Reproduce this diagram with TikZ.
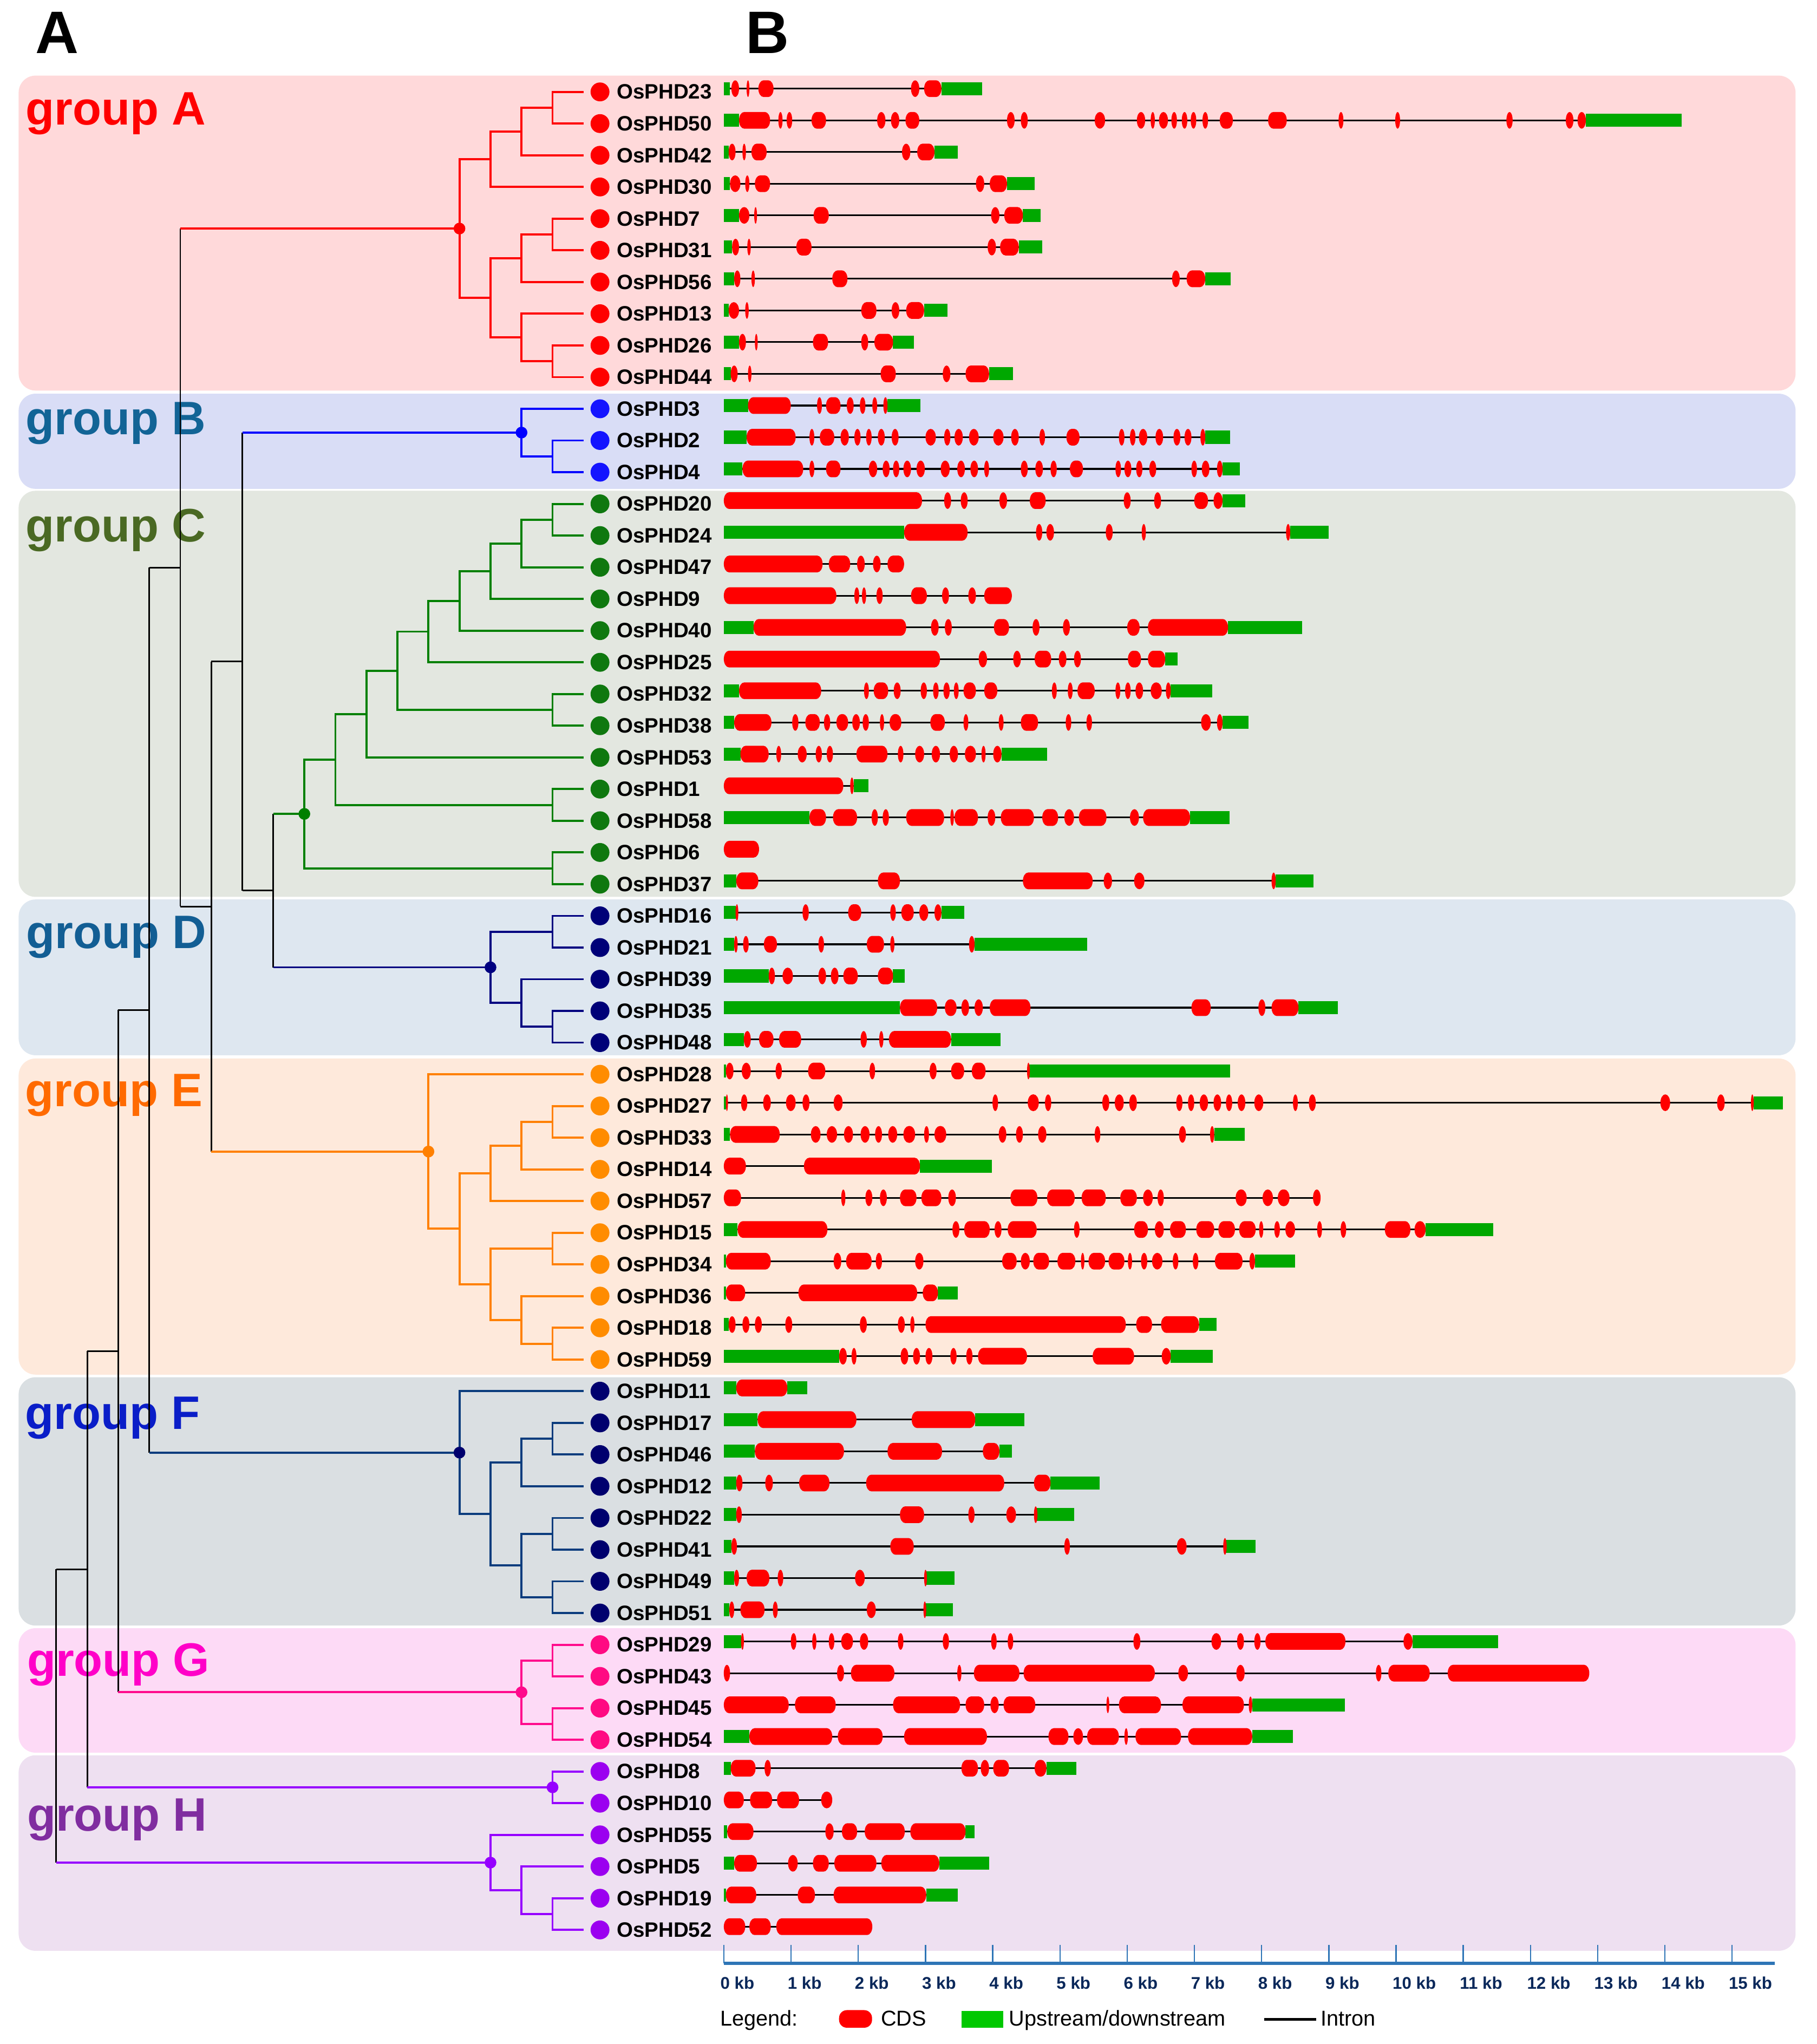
\documentclass[tikz,border=0pt]{standalone}
\usepackage{fontspec}
\setmainfont{Liberation Sans}
\usetikzlibrary{calc}

\definecolor{bgA}{RGB}{255,217,218}
\definecolor{bgB}{RGB}{217,221,246}
\definecolor{bgC}{RGB}{227,231,224}
\definecolor{bgD}{RGB}{222,231,240}
\definecolor{bgE}{RGB}{254,233,219}
\definecolor{bgF}{RGB}{218,223,226}
\definecolor{bgG}{RGB}{253,218,246}
\definecolor{bgH}{RGB}{238,224,241}
\definecolor{txA}{RGB}{255,0,0}
\definecolor{txB}{RGB}{18,100,150}
\definecolor{txC}{RGB}{74,105,35}
\definecolor{txD}{RGB}{18,94,148}
\definecolor{txE}{RGB}{255,106,0}
\definecolor{txF}{RGB}{10,30,200}
\definecolor{txG}{RGB}{255,0,200}
\definecolor{txH}{RGB}{128,45,160}
\definecolor{trA}{RGB}{255,0,0}
\definecolor{trB}{RGB}{0,0,255}
\definecolor{trC}{RGB}{0,128,0}
\definecolor{trD}{RGB}{0,0,128}
\definecolor{trE}{RGB}{255,128,0}
\definecolor{trF}{RGB}{10,60,125}
\definecolor{trG}{RGB}{255,10,140}
\definecolor{trH}{RGB}{150,0,255}
\definecolor{dtA}{RGB}{255,0,0}
\definecolor{dtB}{RGB}{20,20,255}
\definecolor{dtC}{RGB}{15,120,15}
\definecolor{dtD}{RGB}{0,0,120}
\definecolor{dtE}{RGB}{255,140,0}
\definecolor{dtF}{RGB}{0,0,110}
\definecolor{dtG}{RGB}{255,10,130}
\definecolor{dtH}{RGB}{155,0,240}
\definecolor{cdsred}{RGB}{255,0,0}
\definecolor{utrgreen}{RGB}{0,168,0}
\definecolor{axisblue}{RGB}{46,117,182}
\definecolor{axistext}{RGB}{10,40,90}
\definecolor{leggreen}{RGB}{0,200,0}

% internal tree node: style, name, level coordinate, child 1, child 2
\newcommand\jn[5]{%
  \coordinate (#2m) at ($(#4)!0.5!(#5)$);
  \coordinate (#2) at (#2m -| #3);
  \draw[#1] (#4) -| (#2) |- (#5);
}
% backbone node: name, level, child 1, child 2, style to child 1, style to child 2
\newcommand\bbn[6]{%
  \coordinate (#1m) at ($(#3)!0.5!(#4)$);
  \coordinate (#1) at (#1m -| #2);
  \draw[bbline] (#1 |- #3) -- (#1 |- #4);
  \draw[#5] (#1 |- #3) -- (#3);
  \draw[#6] (#1 |- #4) -- (#4);
}
% CDS block with elliptical ends
\newcommand\cdsbox[3]{%
  \pgfmathsetmacro\crad{min((#2-#1)*0.5299/2,4)}%
  \fill[cds] ($(#1,#3)+(\crad pt,6.4pt)$) -- ($(#2,#3)+(-\crad pt,6.4pt)$)
    arc[start angle=90, end angle=-90, x radius=\crad pt, y radius=6.4pt]
    -- ($(#1,#3)+(\crad pt,-6.4pt)$)
    arc[start angle=270, end angle=90, x radius=\crad pt, y radius=6.4pt] -- cycle;%
}
% gene: row, end, UTR list, CDS list
\newcommand\gene[4]{%
  \pgfmathsetmacro\gy{70.5+(#1-1)*24.31-2.5}%
  \draw[intron] (13,\gy) -- (#2,\gy);%
  \if\relax\detokenize{#3}\relax\else
    \foreach \xa/\xb in {#3} {\fill[utr] (\xa,\gy-5) rectangle (\xb,\gy+5);}%
  \fi
  \foreach \xa/\xb in {#4} {\cdsbox{\xa}{\xb}{\gy}}%
}

\begin{document}
\begin{tikzpicture}[x=1pt,y=-1pt,
  grpbg/.style={rounded corners=13pt},
  grplab/.style={anchor=base west, inner sep=0pt, font=\fontsize{36}{36}\selectfont\bfseries},
  hdr/.style={anchor=base west, inner sep=0pt, font=\fontsize{46}{46}\selectfont\bfseries},
  leaflab/.style={anchor=west, inner sep=0pt, font=\fontsize{16}{16}\selectfont\bfseries},
  leafdot/.style={circle, inner sep=0pt, minimum size=14.5pt},
  rootdot/.style={circle, inner sep=0pt, minimum size=9pt},
  brA/.style={trA, line width=1.6pt},
  brB/.style={trB, line width=1.6pt},
  brC/.style={trC, line width=1.6pt},
  brD/.style={trD, line width=1.6pt},
  brE/.style={trE, line width=1.6pt},
  brF/.style={trF, line width=1.6pt},
  brG/.style={trG, line width=1.6pt},
  brH/.style={trH, line width=1.6pt},
  bbline/.style={black, line width=1.2pt},
  intron/.style={black, line width=1.3pt},
  utr/.style={fill=utrgreen},
  cds/.style={fill=cdsred},
  axisline/.style={axisblue, line width=2.5pt},
  tickline/.style={axisblue, line width=1pt},
  ticklab/.style={anchor=base west, inner sep=0pt, text=axistext, font=\fontsize{13}{13}\selectfont\bfseries},
  leglab/.style={anchor=base west, inner sep=0pt, font=\fontsize{16.5}{16.5}\selectfont},
]
\useasboundingbox (0,0) rectangle (1393.7,1568);
\fill[white] (0,0) rectangle (1393.7,1568);

% group backgrounds
\fill[bgA, grpbg] (14.3,58) rectangle (1377.5,299.6);
\fill[bgB, grpbg] (14.3,302) rectangle (1377.5,375);
\fill[bgC, grpbg] (14.3,376.5) rectangle (1377.5,688);
\fill[bgD, grpbg] (14.3,690) rectangle (1377.5,809.5);
\fill[bgE, grpbg] (14.3,812) rectangle (1377.5,1054.5);
\fill[bgF, grpbg] (14.3,1056.5) rectangle (1377.5,1247);
\fill[bgG, grpbg] (14.3,1249) rectangle (1377.5,1344.5);
\fill[bgH, grpbg] (14.3,1346.5) rectangle (1377.5,1496.5);

% headers and group labels
\node[hdr] (hA) at (27,41) {A};
\node[hdr] (hB) at (572,41) {B};
\node[grplab, text=txA] (gA) at (19.7,95.7) {group A};
\node[grplab, text=txB] (gB) at (19.7,333.3) {group B};
\node[grplab, text=txC] (gC) at (19.7,415.4) {group C};
\node[grplab, text=txD] (gD) at (20,727.6) {group D};
\node[grplab, text=txE] (gE) at (19.1,848.8) {group E};
\node[grplab, text=txF] (gF) at (19.1,1096.4) {group F};
\node[grplab, text=txG] (gG) at (20.7,1285.7) {group G};
\node[grplab, text=txH] (gH) at (20.7,1404.6) {group H};

% tree levels
\foreach \k in {0,...,16} {\coordinate (l\k) at ({43.1+23.8*\k},0);}

% leaves
\foreach \i/\g/\c in {1/23/A,2/50/A,3/42/A,4/30/A,5/7/A,6/31/A,7/56/A,8/13/A,9/26/A,10/44/A,
  11/3/B,12/2/B,13/4/B,
  14/20/C,15/24/C,16/47/C,17/9/C,18/40/C,19/25/C,20/32/C,21/38/C,22/53/C,23/1/C,24/58/C,25/6/C,26/37/C,
  27/16/D,28/21/D,29/39/D,30/35/D,31/48/D,
  32/28/E,33/27/E,34/33/E,35/14/E,36/57/E,37/15/E,38/34/E,39/36/E,40/18/E,41/59/E,
  42/11/F,43/17/F,44/46/F,45/12/F,46/22/F,47/41/F,48/49/F,49/51/F,
  50/29/G,51/43/G,52/45/G,53/54/G,
  54/8/H,55/10/H,56/55/H,57/5/H,58/19/H,59/52/H} {
  \pgfmathsetmacro\yy{70.5+(\i-1)*24.31}
  \coordinate (t\g) at (447.7,\yy);
  \node[leafdot, fill=dt\c] (dot\g) at (460.3,\yy) {};
  \node[leaflab] (lab\g) at (473,\yy) {OsPHD\g};
}

% group A
\jn{brA}{a1}{l16}{t23}{t50}
\jn{brA}{a2}{l15}{a1}{t42}
\jn{brA}{a3}{l14}{a2}{t30}
\jn{brA}{a4}{l16}{t7}{t31}
\jn{brA}{a5}{l15}{a4}{t56}
\jn{brA}{a6}{l16}{t26}{t44}
\jn{brA}{a7}{l15}{t13}{a6}
\jn{brA}{a8}{l14}{a5}{a7}
\jn{brA}{rA}{l13}{a3}{a8}
% group B
\jn{brB}{b1}{l16}{t2}{t4}
\jn{brB}{rB}{l15}{t3}{b1}
% group C
\jn{brC}{c1}{l16}{t20}{t24}
\jn{brC}{c2}{l15}{c1}{t47}
\jn{brC}{c3}{l14}{c2}{t9}
\jn{brC}{c4}{l13}{c3}{t40}
\jn{brC}{c5}{l12}{c4}{t25}
\jn{brC}{c6}{l16}{t32}{t38}
\jn{brC}{c7}{l11}{c5}{c6}
\jn{brC}{c8}{l10}{c7}{t53}
\jn{brC}{c9}{l16}{t1}{t58}
\jn{brC}{c10}{l9}{c8}{c9}
\jn{brC}{c11}{l16}{t6}{t37}
\jn{brC}{rC}{l8}{c10}{c11}
% group D
\jn{brD}{d1}{l16}{t16}{t21}
\jn{brD}{d2}{l16}{t35}{t48}
\jn{brD}{d3}{l15}{t39}{d2}
\jn{brD}{rD}{l14}{d1}{d3}
% group E
\jn{brE}{e1}{l16}{t27}{t33}
\jn{brE}{e2}{l15}{e1}{t14}
\jn{brE}{e3}{l14}{e2}{t57}
\jn{brE}{e4}{l16}{t15}{t34}
\jn{brE}{e5}{l16}{t18}{t59}
\jn{brE}{e6}{l15}{t36}{e5}
\jn{brE}{e7}{l14}{e4}{e6}
\jn{brE}{e8}{l13}{e3}{e7}
\jn{brE}{rE}{l12}{t28}{e8}
% group F
\jn{brF}{f1}{l16}{t17}{t46}
\jn{brF}{f2}{l15}{f1}{t12}
\jn{brF}{f3}{l16}{t22}{t41}
\jn{brF}{f4}{l16}{t49}{t51}
\jn{brF}{f5}{l15}{f3}{f4}
\jn{brF}{f6}{l14}{f2}{f5}
\jn{brF}{rF}{l13}{t11}{f6}
% group G
\jn{brG}{g1}{l16}{t29}{t43}
\jn{brG}{g2}{l16}{t45}{t54}
\jn{brG}{rG}{l15}{g1}{g2}
% group H
\jn{brH}{rHa}{l16}{t8}{t10}
\jn{brH}{h2}{l16}{t19}{t52}
\jn{brH}{h3}{l15}{t5}{h2}
\jn{brH}{rHb}{l14}{t55}{h3}
% backbone
\bbn{k7}{l7}{rC}{rD}{brC}{brD}
\bbn{k6}{l6}{rB}{k7}{brB}{bbline}
\bbn{k5}{l5}{k6}{rE}{bbline}{brE}
\bbn{k4}{l4}{rA}{k5}{brA}{bbline}
\bbn{k3}{l3}{k4}{rF}{bbline}{brF}
\bbn{k2}{l2}{k3}{rG}{bbline}{brG}
\bbn{k1}{l1}{k2}{rHa}{bbline}{brH}
\bbn{k0}{l0}{k1}{rHb}{bbline}{brH}
% group root dots
\node[rootdot, fill=dtA] (dA) at (rA) {};
\node[rootdot, fill=trB] (dB) at (rB) {};
\node[rootdot, fill=trC] (dC) at (rC) {};
\node[rootdot, fill=trD] (dD) at (rD) {};
\node[rootdot, fill=trE] (dE) at (rE) {};
\node[rootdot, fill=dtF] (dF) at (rF) {};
\node[rootdot, fill=trG] (dG) at (rG) {};
\node[rootdot, fill=trH] (dHa) at (rHa) {};
\node[rootdot, fill=trH] (dHb) at (rHb) {};

% gene structures (x unit: 1/97.2 kb, 0 kb at 13)
\begin{scope}[xshift=548.4pt, x=0.5299pt]
\gene{1}{387}{13/22,328/387}{24/35,46/50,63/85,284/296,303/328}
\gene{2}{1400}{13/35,1261/1400}{35/80,92/98,104/112,140/161,235/247,255/267,276/296,423/434,443/453,550/565,611/623,631/637,643/656,661/669,676/684,689/697,706/714,731/750,801/828,903/910,985/992,1146/1155,1232/1243,1249/1261}
\gene{3}{352}{13/20,318/352}{20/30,40/45,53/75,271/283,293/318}
\gene{4}{463}{13/22,423/463}{22/37,44/50,58/80,378/390,398/423}
\gene{5}{472}{13/35,446/472}{35/50,57/61,143/165,400/412,419/446}
\gene{6}{474}{13/25,440/474}{25/35,47/52,118/140,395/407,413/440}
\gene{7}{747}{13/28,710/747}{28/37,53/58,170/192,662/673,683/710}
\gene{8}{337}{13/20,303/337}{20/35,44/49,212/234,256/267,277/303}
\gene{9}{288}{13/35,258/288}{35/45,58/62,142/164,212/222,231/258}
\gene{10}{432}{13/23,397/432}{23/33,48/53,240/262,330/341,363/397}
\gene{11}{298}{13/48,250/298}{48/110,148/155,161/182,191/201,210/218,228/235,244/250}
\gene{12}{746}{13/46,710/746}{46/117,137/144,152/173,182/194,202/211,219/227,236/246,256/266,305/320,332/341,347/359,368/382,403/418,429/440,470/478,509/528,585/593,601/609,614/626,638/649,664/674,680/690,703/710}
\gene{13}{760}{13/40,735/760}{40/128,137/144,161/182,223/235,243/253,258/267,273/284,292/304,327/340,351/362,370/381,390/397,443/453,464/475,486/495,514/533,580/588,593/603,610/619,629/639,690/698,705/716,727/735}
\gene{14}{768}{735/768}{13/300,332/342,356/366,412/423,456/479,592/602,636/646,694/714,722/735}
\gene{15}{889}{13/274,833/889}{274/366,465/474,480/491,566/576,618/624,827/833}
\gene{16}{274}{}{13/156,165/196,206/217,229/240,250/274}
\gene{17}{430}{}{13/176,202/209,213/219,234/243,284/307,329/339,367/378,390/430}
\gene{18}{850}{13/56,743/850}{56/277,313/324,333/343,404/426,460/470,504/514,597/615,627/743}
\gene{19}{670}{652/670}{13/326,382/394,432/443,463/487,498/509,520/530,598/617,627/652}
\gene{20}{720}{13/35,660/720}{35/154,216/223,230/251,259/269,298/307,316/324,331/340,346/353,360/378,390/409,488/495,511/518,525/550,580/587,594/602,609/620,631/647,653/660}
\gene{21}{773}{13/28,735/773}{28/82,112/121,131/152,158/167,176/193,199/210,214/223,239/245,253/270,312/333,360/367,411/418,443/468,508/516,538/546,704/718,727/735}
\gene{22}{481}{13/37,415/481}{37/78,89/96,120/133,146/155,162/171,205/250,265/273,290/303,314/326,340/352,362/378,386/392,403/415}
\gene{23}{222}{201/222}{13/186,196/201}
\gene{24}{745}{13/137,688/745}{137/161,171/206,227/236,243/252,277/332,341/346,347/381,395/406,414/462,474/497,506/520,527/567,601/614,620/688}
\gene{25}{64}{}{13/64}
\gene{26}{867}{13/31,812/867}{31/63,236/268,446/547,563/575,607/622,806/812}
\gene{27}{361}{13/30,328/361}{30/34,127/136,193/212,254/262,270/288,296/309,318/328}
\gene{28}{539}{13/28,376/539}{28/33,41/49,71/90,150/158,220/245,254/260,368/376}
\gene{29}{275}{13/78,258/275}{78/87,98/113,150/161,168/179,186/207,236/258}
\gene{30}{902}{13/268,845/902}{268/322,333/350,357/368,376/388,398/457,690/718,787/797,806/845}
\gene{31}{414}{13/42,342/414}{42/52,64/85,93/125,211/220,238/244,252/342}
\gene{32}{746}{13/16,455/746}{16/27,39/52,88/97,135/160,224/232,311/321,342/361,372/392,452/456}
\gene{33}{1546}{13/16,1504/1546}{16/19,38/47,70/81,103/117,127/137,172/185,402/410,453/469,478/487,561/571,579/592,600/611,668/677,685/694,702/714,722/733,740/749,757/768,781/794,837/844,860/870,1369/1383,1451/1462,1500/1504}
\gene{34}{767}{13/22,723/767}{22/94,139/153,162/177,187/200,211/224,232/242,251/264,273/290,303/310,318/335,411/422,436/446,468/480,550/558,672/682,717/723}
\gene{35}{401}{297/401}{13/45,129/297}
\gene{36}{877}{}{13/38,183/189,218/228,239/249,268/292,299/328,338/349,428/467,481/521,531/566,587/611,620/634,641/650,754/770,793/808,815/832,866/877}
\gene{37}{1127}{13/33,1029/1127}{33/163,344/354,361/398,405/415,424/466,520/528,607/627,637/650,659/682,697/723,729/753,759/783,788/794,810/818,826/840,872/879,906/914,970/1007,1013/1029}
\gene{38}{840}{13/16,782/840}{16/81,172/183,190/227,233/242,290/302,416/437,443/456,461/484,496/522,530/535,541/565,570/593,598/604,617/626,633/648,663/671,692/700,724/764,774/782}
\gene{39}{352}{13/16,323/352}{16/44,121/293,301/323}
\gene{40}{726}{13/20,701/726}{20/30,40/50,58/68,102/112,210/220,265/275,283/289,305/595,610/633,646/701}
\gene{41}{721}{13/180,660/721}{180/191,198/205,269/280,287/297,305/315,341/350,364/373,381/452,547/607,647/660}
\gene{42}{134}{13/31,105/134}{31/105}
\gene{43}{448}{13/62,377/448}{62/205,285/377}
\gene{44}{430}{13/58,412/430}{58/187,250/329,388/412}
\gene{45}{557}{13/31,486/557}{31/40,73/84,122/166,219/419,462/486}
\gene{46}{520}{13/31,464/520}{31/39,268/303,367/376,422/436,462/467}
\gene{47}{783}{13/24,738/783}{24/32,254/288,506/514,669/683,736/741}
\gene{48}{347}{13/28,305/347}{28/35,46/79,91/99,203/217,303/307}
\gene{49}{345}{13/21,304/345}{21/28,37/72,84/91,220/233,302/306}
\gene{50}{1134}{13/38,1010/1134}{38/42,110/118,141/147,165/173,183/200,210/222,265/273,330/339,400/408,424/432,606/616,719/733,756/766,781/790,797/913,997/1010}
\gene{51}{1266}{}{13/22,177/187,197/260,351/357,375/441,447/637,671/685,755/767,957/965,975/1035,1061/1266}
\gene{52}{912}{778/912}{13/107,116/175,258/355,363/390,399/411,418/464,567/571,585/646,677/766,773/778}
\gene{53}{837}{13/50,778/837}{50/170,178/243,274/394,483/512,519/533,539/585,593/598,609/675,685/778}
\gene{54}{523}{13/23,480/523}{23/59,72/81,357/381,385/397,403/426,463/480}
\gene{55}{170}{}{13/42,51/83,90/122,154/170}
\gene{56}{376}{13/18,363/376}{18/56,160/172,184/206,217/275,283/363}
\gene{57}{397}{13/28,325/397}{28/61,106/120,142/165,173/234,241/325}
\gene{58}{352}{13/16,306/352}{16/60,120/145,172/306}
\gene{59}{228}{}{13/44,50/81,89/228}
\end{scope}

% scale axis
\coordinate (ax0) at (555.3,1505.9);
\coordinate (ax1) at (1361.5,1505.9);
\draw[axisline] (ax0) -- (ax1);
\foreach \k in {0,...,15} {
  \draw[tickline] ({555.3+51.57*\k},1492) -- ({555.3+51.57*\k},1506);
  \node[ticklab] (kb\k) at ({555.3+51.57*\k-2.8},1526) {\k\ kb};
}

% legend
\node[leglab] (legend) at (552.4,1554) {Legend:};
\fill[cdsred, rounded corners=6pt] (643.7,1542) rectangle (669,1555.5);
\node[leglab] (legcds) at (675.6,1554) {CDS};
\fill[leggreen] (737.5,1542.5) rectangle (769.7,1555.5);
\node[leglab] (legutr) at (774,1554) {Upstream/downstream};
\coordinate (li0) at (970,1549);
\coordinate (li1) at (1009.6,1549);
\draw[black, line width=2pt] (li0) -- (li1);
\node[leglab] (legintron) at (1013,1554) {Intron};
\end{tikzpicture}
\end{document}
